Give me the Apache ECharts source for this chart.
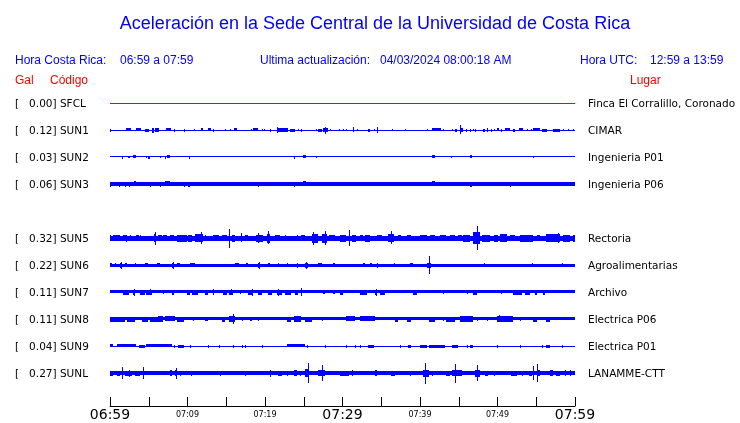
<!DOCTYPE html>
<html>
<head>
<meta charset="utf-8">
<script src="https://cdn.jsdelivr.net/npm/echarts@6/dist/echarts.min.js"></script>
<style>html,body{margin:0;padding:0;background:#fff}#c{width:740px;height:423px}</style>
</head>
<body>
<div id="c"></div>
<script>
// ---- data ----
const codes  = ['SFCL','SUN1','SUN2','SUN3','','SUN5','SUN6','SUN7','SUN8','SUN9','SUNL'];
const galMax = ['0.00','0.12','0.03','0.06','','0.32','0.22','0.11','0.11','0.04','0.27'];
const places = ['Finca El Corralillo, Coronado','CIMAR','Ingenieria P01','Ingenieria P06','','Rectoria','Agroalimentarias','Archivo','Electrica P06','Electrica P01','LANAMME-CTT'];
const timeLabels = ['06:59','07:09','07:19','07:29','07:39','07:49','07:59'];

// each trace: [startMinute, endMinute, halfAmplitude]
const sfcl = [[0,60,0.5]];
const sun1 = [[0,60,0.5],[0,0,1.5],[2.1,2.7,1.7],[3.4,4.0,1.7],[4.5,5.0,1.5],[5.4,5.7,2.5],[5.8,6.3,2],[7.2,7.9,1.7],[8.2,8.2,1.3],[9.5,9.5,1.3],[10.8,10.8,1.2],[11.7,12.0,1.7],[12.6,13.0,1.7],[13.3,13.3,1.3],[14.8,14.8,1.0],[15.5,15.5,1.0],[16.0,16.4,1.7],[18.2,18.2,1.0],[18.5,19.1,1.7],[19.6,19.6,1.2],[19.9,19.9,1.2],[20.7,20.7,1.3],[21.5,23.0,1.8],[21.6,21.6,3],[23.2,23.9,1.5],[24.2,24.2,1.2],[24.7,24.7,1.3],[26.6,26.6,1.0],[26.9,27.3,1.5],[27.5,28.1,2],[27.7,27.7,3.5],[28.4,28.4,1.2],[29.5,29.5,1.0],[30.0,30.0,1.2],[30.5,30.5,1.2],[31.3,31.3,2.7],[31.9,31.9,1.2],[33.3,33.6,1.5],[34.0,34.0,1.2],[34.5,34.5,3],[36.4,36.4,1.2],[38.0,38.0,0.8],[40.9,40.9,1.2],[41.5,42.7,1.7],[43.0,43.0,1.2],[44.1,44.1,1.2],[44.5,44.8,1.5],[45.1,45.1,4.7],[45.3,45.5,2.2],[45.9,45.9,1.5],[46.5,46.5,1.5],[46.8,46.8,1.2],[47.1,47.1,1.5],[48.1,48.4,1.5],[48.6,48.6,2],[49.1,49.1,1.5],[49.6,49.6,1.2],[49.9,50.2,1.7],[50.5,50.5,1.5],[51.0,51.6,1.7],[52.0,52.3,1.5],[52.8,53.3,1.7],[53.8,53.8,1.2],[54.3,54.3,1.2],[54.6,55.5,1.7],[55.7,56.4,1.5],[57.2,58.1,1.5],[58.4,58.4,1.2],[59.1,59.1,1.2],[59.8,59.8,1.2]];
const sun2 = [[0,60,0.6],[1.6,1.6,1.3],[2.3,2.3,1],[2.5,2.5,1.2],[3.0,3.3,1.7],[4.6,4.6,1.2],[4.9,5.1,1.3],[6.4,6.4,1],[7.1,7.1,1.3],[7.4,7.8,1.7],[10.2,10.2,1.3],[23.7,23.7,1.3],[24.9,25.3,1.7],[26.6,26.6,1],[41.5,41.9,1.7],[44.0,44.0,1],[46.5,46.7,1.7],[54.6,54.6,1]];
const sun3 = [[0,60,1.8],[0,0,2.5],[1.1,1.1,2.5],[1.9,1.9,2.5],[2.5,2.5,2.5],[3.1,3.4,2.7],[5.2,5.2,2.3],[6.5,6.5,2.3],[7.1,7.8,2.7],[9.5,9.5,2.3],[10.1,10.3,2.5],[19.1,19.1,2.5],[23.0,23.0,2.2],[23.7,23.7,2.5],[24.9,25.3,2.7],[33.5,33.5,2.2],[41.5,41.9,2.7],[44.0,44.0,2.2],[46.5,46.7,2.5],[48.0,48.0,2.2],[51.6,51.6,2.5],[56.6,56.6,2.2]];
const sun5 = [[0,60,2.3],[0,0,3],[0.4,1.3,3],[1.7,2.2,3],[2.1,2.1,3.5],[2.6,2.6,3],[3.4,3.7,3],[3.9,3.9,3],[5.7,5.9,4],[5.8,5.8,6.3],[6.2,6.7,3],[6.9,7.3,3],[7.7,8.2,3],[8.6,9.9,3.5],[10.1,10.6,3.5],[11.0,12.0,4],[11.7,11.7,6],[12.3,12.3,3],[13.3,14.0,3],[14.4,15.1,3],[15.4,15.4,9.3],[15.7,16.1,3.5],[16.9,16.9,4.7],[17.4,17.8,3],[18.9,19.8,3.5],[19.1,19.1,5],[20.2,20.6,4.5],[20.4,20.4,6.7],[21.3,21.9,3],[22.6,22.6,3],[24.1,24.1,3],[24.7,25.2,3],[26.0,26.9,4.5],[26.2,26.2,6.3],[27.3,28.0,4.5],[27.7,27.7,7],[28.2,29.0,3],[29.7,30.5,3.5],[30.9,30.9,7.8],[31.2,31.7,3.5],[32.3,32.7,3],[32.9,33.5,3.5],[34.4,35.1,3],[35.9,36.6,4],[36.3,36.3,6.7],[37.2,37.6,3],[38.3,38.9,3],[40.0,40.9,3],[41.3,41.9,3],[42.6,43.4,3],[43.9,44.5,3],[44.9,45.4,3],[45.6,46.5,3.5],[46.9,47.7,6],[47.3,47.3,12],[48.0,49.0,3.5],[49.5,50.1,3.5],[50.3,51.2,4],[51.6,52.3,3],[52.9,54.6,3.5],[55.1,55.5,3],[56.3,58.1,4],[57.8,57.8,5],[58.5,59.4,3.5],[59.8,60,3.5]];
const sun6 = [[0,60,1.5],[0,0.2,2],[0.6,0.6,2],[1.3,1.5,2.3],[1.4,1.4,3.3],[1.9,2.2,2],[3.2,3.4,2],[4.5,4.9,2],[6.0,6.5,2],[8.0,8.2,2.3],[8.1,8.1,3.3],[8.6,9.0,2],[10.3,11.0,2],[16.1,16.6,2],[17.6,17.8,2],[19.1,19.4,2.5],[19.2,19.2,3.5],[20.4,20.6,2],[21.7,21.7,2],[22.8,23.0,2],[24.1,24.3,2.5],[25.2,25.5,2.5],[25.3,25.3,3.5],[26.9,27.3,2],[28.8,29.0,2],[32.7,32.9,2],[33.5,33.8,2],[34.4,34.6,2.5],[36.6,36.6,1.7],[38.7,39.1,2],[40.9,41.4,2.5],[41.2,41.2,9],[48.2,48.2,2],[54.4,54.4,1.7],[58.3,58.5,2]];
const sun7 = [[0,60,1.7],[1.7,2.4,2.3],[3.0,3.2,2.3],[3.1,3.1,3.3],[3.9,4.5,2.3],[4.7,5.4,2.5],[5.2,5.2,3],[6.9,6.9,2],[8.0,8.2,2.3],[9.9,10.3,2.3],[10.6,11.4,2.3],[12.3,12.7,2.5],[13.3,13.3,3],[14.6,15.1,2.5],[15.4,15.9,2.5],[15.6,15.6,3],[16.8,16.8,2],[17.8,18.5,2.5],[18.3,18.3,3.5],[19.1,19.6,2.3],[20.4,20.9,2.5],[21.5,22.2,2.5],[21.7,21.7,3.5],[22.6,23.4,2.5],[23.9,24.3,2.3],[24.7,24.7,4],[27.5,27.7,2],[28.8,29.0,2],[29.7,30.1,2.3],[32.3,33.1,2.3],[34.2,34.4,2.3],[34.3,34.3,3.3],[34.8,35.5,2.3],[39.1,39.6,2.5],[43.0,43.0,2],[46.0,46.0,2],[46.9,47.3,2.5],[50.5,50.5,2],[52.0,53.1,2.5],[53.5,54.2,2.3],[54.8,55.1,2.3],[55.9,56.1,2.5]];
const sun8 = [[0,60,1.7],[0,1.9,2.3],[2.2,3.2,2.5],[4.1,4.9,2.5],[5.2,6.2,2.5],[6.2,6.9,3],[7.1,8.4,2.7],[8.6,9.5,2.5],[10.7,10.7,2],[12.3,12.7,2],[14.4,14.8,2.5],[15.3,16.1,3],[15.9,15.9,5],[17.0,17.0,2],[18.1,18.3,2],[19.1,19.1,2],[22.8,23.4,2.5],[23.7,24.7,3],[25.2,26.0,2.5],[27.3,27.5,2],[30.5,31.6,2.7],[32.3,34.2,2.7],[36.8,37.2,2.3],[38.3,38.9,2.3],[41.1,41.9,2.5],[43.0,43.0,2],[43.4,44.5,2.3],[45.2,46.9,3],[47.3,47.3,2],[48.6,48.6,2],[49.9,52.0,3],[50.2,50.2,3.7],[52.9,52.9,2],[54.6,55.1,2.3],[56.3,56.8,2.3]];
const sun9 = [[0,60,0.5],[0,0.4,1.7],[0.9,3.4,1.7],[3.7,4.5,1.5],[4.7,8.0,1.7],[8.2,8.4,1.5],[8.8,9.5,1.5],[10.3,10.3,1.3],[12.7,12.7,1.3],[14.0,14.0,1.3],[15.9,15.9,1.3],[17.0,17.0,1.3],[17.4,17.4,1.3],[19.6,19.6,1.3],[22.8,25.2,1.7],[25.4,25.4,1.5],[27.7,27.7,1.3],[30.5,30.5,1.3],[31.6,31.6,1.3],[32.3,32.3,1.3],[33.3,34.0,1.5],[37.4,37.4,1.3],[38.5,38.9,1.5],[40.0,40.9,1.5],[41.1,43.2,1.5],[44.1,44.9,1.5],[46.0,46.0,1.3],[46.5,46.9,1.5],[49.9,50.1,1.5],[52.9,52.9,1.3],[55.7,55.7,1.3],[56.3,56.8,1.5],[58.3,58.3,1.3]];
const sunl = [[0,60,2],[0,0.4,2.5],[0.9,1.3,2.5],[1.6,1.6,6],[1.9,2.8,2.5],[2.5,2.5,3.5],[3.2,3.9,2.5],[4.2,4.4,4],[4.3,4.3,6],[7.7,8.0,3],[8.4,8.6,3],[8.5,8.5,5.5],[9.0,9.2,2.5],[10.5,10.5,2.5],[14.2,14.2,2.5],[17.4,17.4,2.5],[20.6,20.6,3.5],[21.7,22.2,2.5],[22.8,23.0,2.5],[23.7,24.1,3],[24.5,24.7,2.5],[25.2,25.7,4],[25.5,25.5,10],[26.9,27.7,3],[27.3,27.3,8],[29.7,30.8,2.5],[31.2,31.4,3],[34.2,34.4,3],[36.3,36.8,2.5],[38.7,38.9,2.5],[40.4,41.1,3.5],[40.6,40.6,10.5],[41.5,41.5,2.5],[43.4,43.9,2.5],[44.1,45.4,3],[44.5,44.5,9.5],[47.1,47.7,3.5],[47.4,47.4,8],[48.4,48.8,2.5],[49.5,49.7,2.5],[51.8,52.5,2.5],[53.1,53.1,2.5],[54.0,54.4,2.5],[54.6,54.6,7],[55.1,55.5,3],[55.1,55.1,9],[56.8,57.2,3],[57.6,58.1,2.5],[58.7,58.7,3],[59.4,59.4,3]];

const traces = [sfcl, sun1, sun2, sun3, null, sun5, sun6, sun7, sun8, sun9, sunl];

// ---- style ----
const BLUE = '#0000ff', RED = '#ff0000';
const traceColors = [RED, BLUE, BLUE, BLUE, BLUE, BLUE, BLUE, BLUE, BLUE, BLUE, BLUE];
const AMP_PX = 1;

function renderItem(params, api) {
  const row = api.value(3);
  const p0 = api.coord([api.value(0), row]);
  const p1 = api.coord([api.value(1), row]);
  const amp = api.value(2) * AMP_PX;
  const x0 = Math.round(p0[0]);
  const x1 = Math.max(Math.round(p1[0]), x0 + 1);
  const y0 = Math.round(p0[1] - amp);
  const h = Math.max(1, Math.round(2 * amp));
  return { type: 'rect', shape: { x: x0, y: y0, width: x1 - x0, height: h },
           style: { fill: api.visual('color') } };
}

const series = [];
traces.forEach((tr, k) => {
  if (!tr) return;
  series.push({
    type: 'custom', renderItem, clip: false, silent: true,
    itemStyle: { color: traceColors[k] },
    encode: { x: [0, 1], y: 3 },
    data: tr.map(d => [d[0], d[1], d[2], k])
  });
});

const chart = echarts.init(document.getElementById('c'), null, { renderer: 'canvas' });
const hdr = (x, y, text, color, size) => ({
  type: 'text', left: x, top: y,
  style: { text, fill: color, fontSize: size, fontFamily: 'Liberation Sans' }
});
chart.setOption({
  animation: false,
  backgroundColor: '#fff',
  graphic: [
    { type: 'text', x: 375, y: 15, style: { text: 'Aceleración en la Sede Central de la Universidad de Costa Rica', fill: BLUE, fontSize: 18, fontFamily: 'Liberation Sans', textAlign: 'center' } },
    hdr(15, 55, 'Hora Costa Rica:', BLUE, 12),
    hdr(120, 55, timeLabels[0] + ' a ' + timeLabels[6], BLUE, 12),
    hdr(260, 55, 'Ultima actualización:', BLUE, 12),
    hdr(380, 55, '04/03/2024 08:00:18 AM', BLUE, 12),
    hdr(580, 55, 'Hora UTC:', BLUE, 12),
    hdr(650, 55, '12:59 a 13:59', BLUE, 12),
    hdr(15, 75, 'Gal', RED, 12),
    hdr(50, 75, 'Código', RED, 12),
    hdr(630, 75, 'Lugar', RED, 12)
  ],
  grid: { left: 110, right: 165, top: 89.5, height: 297, containLabel: false },
  xAxis: {
    type: 'value', min: 0, max: 60, interval: 5, offset: 19.5,
    axisLine: { show: true, lineStyle: { color: '#000', width: 1 } },
    axisTick: { show: true, inside: true, length: 9, lineStyle: { color: '#000' } },
    splitLine: { show: false },
    axisLabel: {
      margin: 2, showMinLabel: true, showMaxLabel: true,
      formatter: v => {
        if (v % 10 !== 0) return '';
        const s = timeLabels[v / 10];
        return (v % 30 === 0) ? '{b|' + s + '}' : '{s|' + s + '}';
      },
      rich: {
        b: { fontSize: 14, fontFamily: 'DejaVu Sans', color: '#000' },
        s: { fontSize: 8, fontFamily: 'DejaVu Sans', color: '#000', padding: [3, 0, 0, 0] }
      }
    }
  },
  yAxis: [
    { type: 'category', inverse: true, data: codes, position: 'left',
      axisLine: { show: false }, axisTick: { show: false }, splitLine: { show: false },
      axisLabel: { interval: 0, align: 'left', margin: 95, color: '#000', fontSize: 10.5, fontFamily: 'DejaVu Sans',
        formatter: (v, i) => codes[i] ? '{t|[   ' + galMax[i] + '] ' + codes[i] + '}' : '',
        rich: { t: { fontSize: 10.5, fontFamily: 'DejaVu Sans', color: '#000', padding: [2, 0, 0, 0] } } } },
    { type: 'category', inverse: true, data: codes, position: 'right',
      axisLine: { show: false }, axisTick: { show: false }, splitLine: { show: false },
      axisLabel: { interval: 0, align: 'left', margin: 13, color: '#000', fontSize: 10.5, fontFamily: 'DejaVu Sans',
        formatter: (v, i) => places[i] ? '{t|' + places[i] + '}' : '',
        rich: { t: { fontSize: 10.5, fontFamily: 'DejaVu Sans', color: '#000', padding: [2, 0, 0, 0] } } } }
  ],
  series
});
</script>
</body>
</html>
